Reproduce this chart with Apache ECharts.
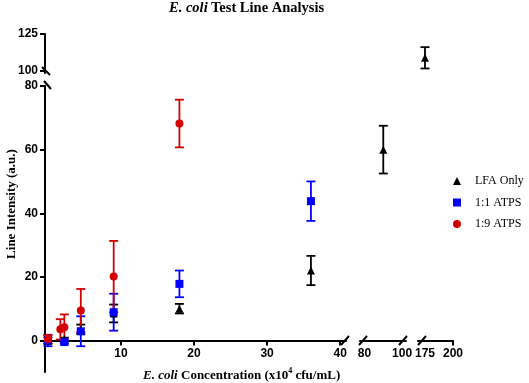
<!DOCTYPE html>
<html>
<head>
<meta charset="utf-8">
<script src="https://cdn.jsdelivr.net/npm/echarts@6/dist/echarts.min.js"></script>
<style>
  html, body { margin: 0; padding: 0; background: #fff; }
  #main { width: 529px; height: 383px; }
</style>
</head>
<body>
<div id="main"></div>
<script>
// E. coli concentration (x10^4 cfu/mL) / mean line intensity (a.u.) / error (+-)
const lfaConc = [0, 2.25, 4.5, 9, 18, 36, 90, 175]
const lfaMean = [0, 0.3, 3.5, 8.5, 10, 22, 60, 108.7]
const lfaErr = [1, 0.6, 1.5, 2.8, 1.5, 4.6, 7.5, 7.3]

const atps11Conc = [0, 2.25, 4.5, 9, 18, 36]
const atps11Mean = [0, -0.5, 2.9, 8.9, 17.8, 43.8]
const atps11Err = [1.8, 0.5, 4.7, 5.8, 4.2, 6.2]

const atps19Conc = [0, 1.7, 2.25, 4.5, 9, 18]
const atps19Mean = [0.4, 3.5, 4.2, 9.4, 20.1, 68.2]
const atps19Err = [1.3, 3.2, 4.0, 6.8, 11.2, 7.5]

// broken x axis: three pieces; y axis: main piece, top piece, and the stub below zero
const xPieces = [[-0.4, 40.8], [77.6, 102.1], [168.75, 200]]
const xPieceLabels = [[10, 20, 30, 40], [80, 100], [175, 200]]
const xPieceTicks = [[10, 20, 30, 40], [], [200]]
const yPieces = [[0, 80], [98.3, 125], [-10, 0]]
const yPieceLabels = [[0, 20, 40, 60, 80], [100, 125], []]

const groups = [
  { name: 'LFA Only', color: '#000000', symbol: 'triangle', size: 8, conc: lfaConc, mean: lfaMean, err: lfaErr },
  { name: '1:1 ATPS', color: '#0000ff', symbol: 'rect', size: 8, conc: atps11Conc, mean: atps11Mean, err: atps11Err },
  { name: '1:9 ATPS', color: '#d40000', symbol: 'circle', size: 8, conc: atps19Conc, mean: atps19Mean, err: atps19Err }
]

const myChart = echarts.init(document.getElementById('main'))

const xBoxes = [{ left: 45, width: 301 }, { left: 360, width: 46 }, { left: 418, width: 35 }]
const yBoxes = [{ top: 86, height: 254.5 }, { top: 34, height: 39 }, { top: 340.5, height: 31.5 }]

const tickFont = { fontFamily: 'Liberation Sans', fontWeight: 'bold', fontSize: 12, color: '#000' }
const axisLine = { show: true, onZero: false, lineStyle: { color: '#000', width: 2 } }

const grid = []
const xAxis = []
const yAxis = []
yBoxes.forEach(function (yb, p) {
  xBoxes.forEach(function (xb, s) {
    grid.push({ left: xb.left, width: xb.width, top: yb.top, height: yb.height, outerBoundsMode: 'none', containLabel: false })
    xAxis.push({
      type: 'value',
      gridIndex: grid.length - 1,
      show: p === 0,
      position: 'bottom',
      min: xPieces[s][0],
      max: xPieces[s][1],
      axisLine: axisLine,
      axisTick: { show: xPieceTicks[s].length > 0, length: 5, customValues: xPieceTicks[s], lineStyle: { width: 2, color: '#000' } },
      axisLabel: Object.assign({ customValues: xPieceLabels[s], margin: 7 }, tickFont),
      splitLine: { show: false }
    })
    yAxis.push({
      type: 'value',
      gridIndex: grid.length - 1,
      show: s === 0,
      min: yPieces[p][0],
      max: yPieces[p][1],
      axisLine: axisLine,
      axisTick: { show: yPieceLabels[p].length > 0, length: 5, customValues: yPieceLabels[p], lineStyle: { width: 2, color: '#000' } },
      axisLabel: Object.assign({ show: yPieceLabels[p].length > 0, customValues: yPieceLabels[p], margin: 7 }, tickFont),
      splitLine: { show: false }
    })
  })
})

function pieceOf(x, y) {
  const s = xPieces.findIndex(function (r) { return x >= r[0] && x <= r[1] })
  const p = y > 90 ? 1 : 0
  return p * 3 + s
}

function errorBar(params, api) {
  const x = api.value(0)
  const y = api.value(1)
  const e = api.value(2)
  const top = api.coord([x, y + e])
  const bot = api.coord([x, y - e])
  const hw = 4.5
  const style = { stroke: api.visual('color'), lineWidth: 1.8 }
  return {
    type: 'group',
    children: [
      { type: 'line', shape: { x1: top[0], y1: top[1], x2: bot[0], y2: bot[1] }, style: style },
      { type: 'line', shape: { x1: top[0] - hw, y1: top[1], x2: top[0] + hw, y2: top[1] }, style: style },
      { type: 'line', shape: { x1: bot[0] - hw, y1: bot[1], x2: bot[0] + hw, y2: bot[1] }, style: style }
    ]
  }
}

const series = []
groups.forEach(function (g) {
  const byGrid = {}
  g.conc.forEach(function (x, i) {
    const gi = pieceOf(x, g.mean[i])
    if (!byGrid[gi]) byGrid[gi] = []
    byGrid[gi].push([x, g.mean[i], g.err[i]])
  })
  Object.keys(byGrid).forEach(function (gi) {
    gi = +gi
    series.push({
      name: g.name + ' error',
      type: 'custom',
      xAxisIndex: gi,
      yAxisIndex: gi,
      renderItem: errorBar,
      clip: false,
      itemStyle: { color: g.color },
      encode: { x: 0, y: 1 },
      data: byGrid[gi],
      silent: true
    })
    series.push({
      name: g.name,
      type: 'scatter',
      xAxisIndex: gi,
      yAxisIndex: gi,
      clip: false,
      symbol: g.symbol,
      symbolSize: g.size,
      itemStyle: { color: g.color, opacity: 1 },
      data: byGrid[gi].map(function (d) { return [d[0], d[1]] })
    })
  })
})

const slash = { stroke: '#000', lineWidth: 2 }

myChart.setOption({
  animation: false,
  backgroundColor: '#fff',
  grid: grid,
  xAxis: xAxis,
  yAxis: yAxis,
  legend: {
    orient: 'vertical',
    left: 453,
    top: 175,
    padding: 0,
    itemWidth: 8,
    itemHeight: 8,
    itemGap: 9.5,
    data: groups.map(function (g) { return { name: g.name, icon: g.symbol } }),
    textStyle: { fontFamily: 'Liberation Serif', fontSize: 12, color: '#000', padding: [0, 0, 0, 9] }
  },
  graphic: [
    {
      type: 'text', left: 169, top: 1,
      style: {
        text: '{i|E. coli} {b|Test Line Analysis}',
        rich: {
          i: { fontFamily: 'Liberation Serif', fontStyle: 'italic', fontWeight: 'bold', fontSize: 14.5, fill: '#000' },
          b: { fontFamily: 'Liberation Serif', fontWeight: 'bold', fontSize: 14.5, fill: '#000' }
        }
      }
    },
    {
      type: 'text', x: 12, y: 204, rotation: Math.PI / 2,
      style: {
        text: 'Line Intensity (a.u.)', align: 'center', verticalAlign: 'middle',
        fontFamily: 'Liberation Serif', fontWeight: 'bold', fontSize: 13, fill: '#000'
      }
    },
    {
      type: 'text', left: 143, top: 367,
      style: {
        text: '{i|E. coli} {b|Concentration (x10}{s|4}{b| cfu/mL)}',
        rich: {
          i: { fontFamily: 'Liberation Serif', fontStyle: 'italic', fontWeight: 'bold', fontSize: 13, fill: '#000', lineHeight: 15, verticalAlign: 'bottom' },
          b: { fontFamily: 'Liberation Serif', fontWeight: 'bold', fontSize: 13, fill: '#000', lineHeight: 15, verticalAlign: 'bottom' },
          s: { fontFamily: 'Liberation Serif', fontWeight: 'bold', fontSize: 8, fill: '#000', verticalAlign: 'top' }
        }
      }
    },
    // axis break marks
    { type: 'line', shape: { x1: 42, y1: 67, x2: 50, y2: 75 }, style: slash },
    { type: 'line', shape: { x1: 44, y1: 81, x2: 51, y2: 89 }, style: slash },
    { type: 'line', shape: { x1: 341, y1: 345, x2: 349, y2: 336 }, style: slash },
    { type: 'line', shape: { x1: 359, y1: 345, x2: 367, y2: 336 }, style: slash },
    { type: 'line', shape: { x1: 399, y1: 345, x2: 407, y2: 336 }, style: slash },
    { type: 'line', shape: { x1: 418, y1: 345, x2: 426, y2: 336 }, style: slash }
  ],
  series: series
})

window.addEventListener('resize', function () {
  myChart.resize()
})
</script>
</body>
</html>
